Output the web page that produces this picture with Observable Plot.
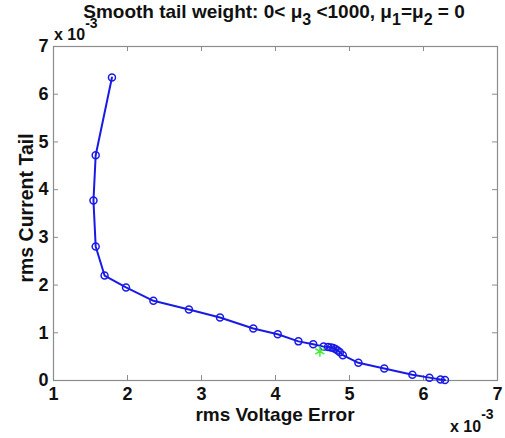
<!DOCTYPE html>
<html><head><meta charset="utf-8">
<script src="https://cdn.jsdelivr.net/npm/d3@7"></script>
<script src="https://cdn.jsdelivr.net/npm/@observablehq/plot@0.6"></script>
<style>
body{margin:0;background:#fff;}
svg{font-family:"Liberation Sans",Arial,sans-serif;}
</style>
</head><body><div id="chart"></div>
<script>
// values in units of 10^-3
const voltageError = [1.79,1.57,1.54,1.57,1.69,1.98,2.35,2.83,3.25,3.70,4.03,4.31,4.51,4.65,4.71,4.75,4.78,4.81,4.84,4.87,4.91,5.12,5.47,5.85,6.08,6.23,6.29];
const currentTail  = [6.35,4.72,3.77,2.81,2.20,1.95,1.67,1.49,1.32,1.09,0.97,0.82,0.76,0.71,0.70,0.69,0.68,0.66,0.63,0.59,0.53,0.37,0.25,0.12,0.06,0.02,0.01];
const starPoint = {x: 4.60, y: 0.61};
const xTicks = [1,2,3,4,5,6,7];
const yTicks = [0,1,2,3,4,5,6,7];
const xLabel = "rms Voltage Error";
const yLabel = "rms Current Tail";

const data = voltageError.map((x,i)=>({x, y: currentTail[i]}));
const frameColor = "#8c8c8c";
const W = 505, H = 438, mL = 53, mR = 8, mT = 46, mB = 58;
const pw = W - mL - mR, ph = H - mT - mB, tl = 5;

const chart = Plot.plot({
  width: W, height: H,
  marginLeft: mL, marginRight: mR, marginTop: mT, marginBottom: mB,
  style: {background: "#fff", fontFamily: "Liberation Sans, Arial, sans-serif"},
  x: {domain: [1,7], ticks: xTicks, label: null},
  y: {domain: [0,7], ticks: yTicks, label: null},
  marks: [
    Plot.frame({stroke: frameColor, strokeWidth: 1.2}),
    Plot.tickX(xTicks, {x: d=>d, insetTop: ph - tl, stroke: frameColor}),
    Plot.tickX(xTicks, {x: d=>d, insetBottom: ph - tl, stroke: frameColor}),
    Plot.tickY(yTicks, {y: d=>d, insetRight: pw - tl, stroke: frameColor}),
    Plot.tickY(yTicks, {y: d=>d, insetLeft: pw - tl, stroke: frameColor}),
    Plot.axisX({ticks: xTicks, tickSize: 0, tickPadding: 7, tickFormat: "d", fontSize: 18, fontWeight: "bold", fill: "#111", label: null}),
    Plot.axisY({ticks: yTicks, tickSize: 0, tickPadding: 5, tickFormat: "d", fontSize: 18, fontWeight: "bold", fill: "#111", label: null}),
    Plot.line(data, {x: "x", y: "y", stroke: "#1a1ae6", strokeWidth: 2}),
    Plot.dot(data, {x: "x", y: "y", r: 3.5, stroke: "#1a1ae6", strokeWidth: 1.5, fill: "none"}),
    Plot.dot([starPoint], {x: "x", y: "y", symbol: "asterisk", r: 5, stroke: "#44ee33", strokeWidth: 1.5})
  ]
});
document.getElementById("chart").appendChild(chart);

const svg = d3.select(chart);
const g = svg.append("g").attr("fill", "#111").attr("font-weight", "bold");
// Title
const t = g.append("text").attr("x", 274).attr("y", 18).attr("text-anchor", "middle").attr("font-size", 19);
t.append("tspan").text("Smooth tail weight: 0< μ");
t.append("tspan").attr("dy", 7).attr("font-size", 16).text("3");
t.append("tspan").attr("dy", -7).text(" <1000, μ");
t.append("tspan").attr("dy", 7).attr("font-size", 16).text("1");
t.append("tspan").attr("dy", -7).text("=μ");
t.append("tspan").attr("dy", 7).attr("font-size", 16).text("2");
t.append("tspan").attr("dy", -7).text(" = 0");
// axis labels
g.append("text").attr("x", 275).attr("y", 421).attr("text-anchor", "middle").attr("font-size", 19).text(xLabel);
g.append("text").attr("transform", "translate(33,208) rotate(-90)").attr("text-anchor", "middle").attr("font-size", 19.5).text(yLabel);
// exponent labels
const e1 = g.append("text").attr("x", 54).attr("y", 40).attr("text-anchor", "start").attr("font-size", 16);
e1.append("tspan").text("x 10");
e1.append("tspan").attr("dy", -12).attr("font-size", 14).text("-3");
const e2 = g.append("text").attr("x", 450).attr("y", 432).attr("text-anchor", "start").attr("font-size", 16);
e2.append("tspan").text("x 10");
e2.append("tspan").attr("dy", -13).attr("font-size", 14).text("-3");
</script>
</body></html>
